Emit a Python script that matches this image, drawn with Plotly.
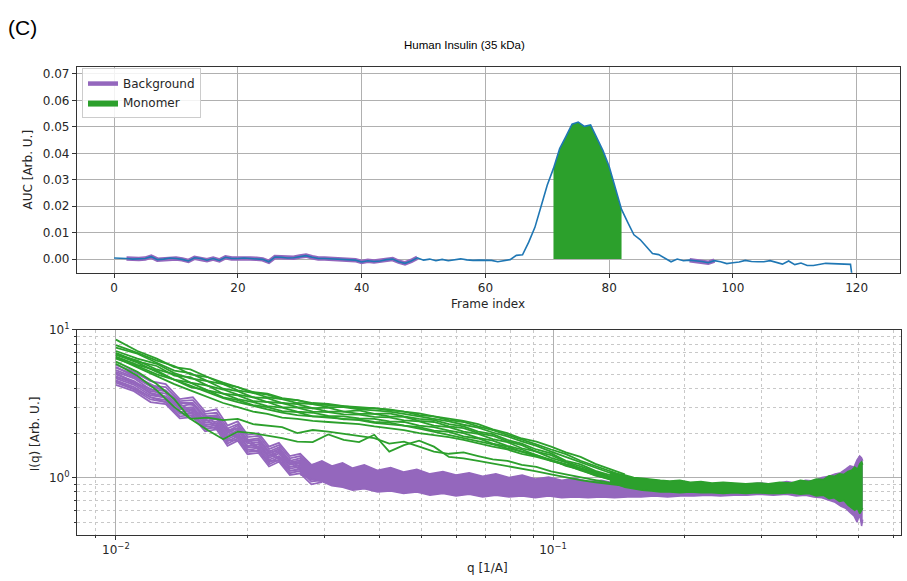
import plotly.graph_objects as go

# ---------------- data: top panel (AUC vs frame) ----------------
frames = list(range(121))
auc = [
    0.0004, 0.0004, 0.0002, 0.0000, 0.0000, 0.0002, 0.0009, -0.0002, 0.0000, 0.0004,
    0.0002, -0.0001, -0.0007, 0.0005, 0.0002, -0.0004, 0.0002, -0.0005, 0.0007, 0.0002,
    0.0002, 0.0004, 0.0002, 0.0001, -0.0001, -0.0010, 0.0008, 0.0007, 0.0004, 0.0005,
    0.0010, 0.0013, 0.0007, 0.0002, 0.0002, 0.0001, 0.0000, 0.0000, -0.0001, -0.0004,
    -0.0011, -0.0006, -0.0009, -0.0007, -0.0002, 0.0000, -0.0010, -0.0016, -0.0007, 0.0005,
    -0.0004, 0.0000, -0.0006, -0.0001, -0.0006, -0.0002, 0.0001, -0.0003, -0.0005, -0.0004,
    -0.0004, -0.0005, -0.0010, -0.0005, -0.0002, 0.0014, 0.0016, 0.0064, 0.0120, 0.0200,
    0.0280, 0.0343, 0.0418, 0.0463, 0.0510, 0.0518, 0.0502, 0.0507, 0.0460, 0.0410,
    0.0350, 0.0269, 0.0188, 0.0139, 0.0092, 0.0074, 0.0046, 0.0021, 0.0017, 0.0002,
    -0.0010, 0.0000, -0.0006, -0.0004, -0.0006, -0.0009, -0.0014, -0.0006, -0.0010, -0.0017,
    -0.0014, -0.0011, -0.0005, -0.0009, -0.0010, -0.0010, -0.0006, -0.0014, -0.0019, -0.0007,
    -0.0021, -0.0015, -0.0024, -0.0024, -0.0021, -0.0016, -0.0017, -0.0018, -0.0019, -0.0020,
    -0.0200,
]
bg_frames_a = list(range(2, 50))
bg_frames_b = list(range(93, 98))
monomer_frames = list(range(71, 83))

top_xticks = [0, 20, 40, 60, 80, 100, 120]
top_yticks = [0.00, 0.01, 0.02, 0.03, 0.04, 0.05, 0.06, 0.07]

# ---------------- data: bottom panel (I(q) vs q) ----------------
q_green = [0.0100, 0.0112, 0.0124, 0.0136, 0.0148, 0.0162, 0.0176, 0.0190, 0.0206, 0.0222,
           0.0240, 0.0260, 0.0282, 0.0306, 0.0332, 0.0360, 0.0390, 0.0422, 0.0456, 0.0494,
           0.0534, 0.0578, 0.0624, 0.0674, 0.0728, 0.0786, 0.0848, 0.0916, 0.0990, 0.1070,
           0.1156, 0.1250, 0.1350, 0.1460]
green_curves = [
    [8.6, 7.2, 6.4, 5.6, 5.4, 4.8, 4.4, 4.1, 3.8, 3.7, 3.45, 3.35, 3.2, 3.15, 3.05, 3.0, 2.95, 2.9, 2.8, 2.72, 2.6, 2.5, 2.42, 2.3, 2.12, 2.0, 1.84, 1.75, 1.62, 1.48, 1.38, 1.24, 1.14, 1.05],
    [7.9, 7.0, 6.2, 5.7, 5.0, 4.8, 4.3, 4.1, 3.75, 3.65, 3.4, 3.35, 3.15, 3.1, 3.05, 2.95, 2.95, 2.85, 2.8, 2.65, 2.6, 2.45, 2.38, 2.22, 2.1, 1.95, 1.82, 1.68, 1.55, 1.44, 1.3, 1.2, 1.1, 1.02],
    [7.6, 6.9, 6.0, 5.3, 5.1, 4.5, 4.3, 3.9, 3.75, 3.5, 3.4, 3.2, 3.15, 3.0, 3.0, 2.9, 2.85, 2.8, 2.7, 2.6, 2.5, 2.4, 2.28, 2.18, 2.02, 1.9, 1.76, 1.64, 1.5, 1.38, 1.26, 1.16, 1.07, 0.99],
    [7.2, 6.4, 5.9, 5.1, 4.7, 4.5, 4.0, 3.85, 3.5, 3.45, 3.2, 3.15, 2.95, 2.98, 2.8, 2.85, 2.7, 2.72, 2.6, 2.5, 2.45, 2.3, 2.22, 2.05, 1.97, 1.8, 1.7, 1.55, 1.46, 1.3, 1.23, 1.11, 1.04, 0.96],
    [7.0, 6.1, 5.7, 4.9, 4.8, 4.2, 3.95, 3.65, 3.5, 3.25, 3.2, 3.0, 2.95, 2.8, 2.8, 2.7, 2.7, 2.6, 2.58, 2.42, 2.38, 2.22, 2.16, 2.0, 1.92, 1.76, 1.66, 1.5, 1.42, 1.28, 1.19, 1.09, 1.01, 0.95],
    [6.8, 6.2, 5.4, 5.0, 4.4, 4.2, 3.7, 3.6, 3.3, 3.25, 3.0, 2.98, 2.8, 2.78, 2.68, 2.67, 2.58, 2.56, 2.44, 2.4, 2.25, 2.2, 2.05, 1.98, 1.82, 1.74, 1.58, 1.5, 1.36, 1.27, 1.15, 1.07, 0.99, 0.94],
    [6.6, 5.8, 5.3, 4.6, 4.4, 3.9, 3.7, 3.4, 3.25, 3.05, 2.98, 2.8, 2.75, 2.62, 2.6, 2.52, 2.5, 2.4, 2.38, 2.25, 2.2, 2.08, 2.0, 1.86, 1.78, 1.64, 1.55, 1.42, 1.32, 1.2, 1.13, 1.03, 0.98, 0.92],
    [6.4, 5.7, 5.0, 4.6, 4.1, 3.9, 3.5, 3.35, 3.1, 3.0, 2.82, 2.78, 2.6, 2.6, 2.48, 2.48, 2.38, 2.36, 2.25, 2.2, 2.08, 2.04, 1.9, 1.84, 1.7, 1.62, 1.5, 1.42, 1.3, 1.22, 1.12, 1.04, 0.97, 0.93],
    [6.8, 6.0, 5.2, 4.6, 4.2, 3.8, 3.45, 3.25, 3.05, 2.9, 2.75, 2.65, 2.6, 2.55, 2.5, 2.45, 2.35, 2.3, 2.25, 2.15, 2.05, 1.95, 1.85, 1.78, 1.68, 1.58, 1.5, 1.4, 1.32, 1.24, 1.16, 1.08, 1.01, 0.96],
    [6.5, 5.6, 4.9, 4.3, 3.9, 3.5, 3.2, 3.0, 2.8, 2.7, 2.55, 2.5, 2.42, 2.38, 2.35, 2.3, 2.22, 2.15, 2.1, 2.0, 1.95, 1.88, 1.8, 1.7, 1.62, 1.55, 1.45, 1.38, 1.3, 1.22, 1.14, 1.06, 1.0, 0.95],
    [6.1, 5.2, 4.3, 3.4, 2.5, 2.55, 2.45, 2.5, 2.3, 2.25, 2.2, 2.0, 2.1, 2.05, 1.98, 1.9, 1.85, 1.7, 1.75, 1.62, 1.5, 1.45, 1.48, 1.4, 1.33, 1.3, 1.22, 1.18, 1.1, 1.05, 1.0, 0.96, 0.92, 0.9],
    [5.9, 4.9, 3.9, 3.0, 2.5, 2.1, 1.82, 2.05, 2.0, 1.92, 1.85, 1.75, 1.74, 1.96, 1.8, 1.74, 1.95, 1.5, 1.66, 1.78, 1.62, 1.38, 1.35, 1.3, 1.25, 1.2, 1.15, 1.1, 1.05, 1.0, 0.96, 0.93, 0.9, 0.88],
]

q_purple = [0.0100, 0.0110, 0.0120, 0.0130, 0.0140, 0.0150, 0.0160, 0.0170, 0.0180, 0.0190,
            0.0200, 0.0212, 0.0224, 0.0236, 0.0250, 0.0264, 0.0280, 0.0296]
purple_curves = [
    [5.8, 5.2, 4.5, 4.3, 3.4, 3.5, 2.8, 2.9, 2.25, 2.4, 1.95, 2.0, 1.62, 1.72, 1.4, 1.45, 1.22, 1.25],
    [5.55, 5.0, 4.2, 4.1, 3.3, 3.35, 2.7, 2.75, 2.15, 2.3, 1.88, 1.92, 1.56, 1.66, 1.35, 1.4, 1.18, 1.2],
    [5.35, 4.8, 4.15, 3.9, 3.2, 3.2, 2.6, 2.65, 2.05, 2.25, 1.8, 1.85, 1.5, 1.6, 1.3, 1.35, 1.13, 1.17],
    [5.2, 4.7, 3.95, 3.85, 3.05, 3.15, 2.5, 2.6, 2.0, 2.17, 1.76, 1.8, 1.46, 1.56, 1.27, 1.31, 1.1, 1.13],
    [5.0, 4.5, 3.85, 3.7, 2.95, 3.0, 2.42, 2.5, 1.93, 2.1, 1.7, 1.73, 1.4, 1.5, 1.22, 1.26, 1.06, 1.09],
    [4.85, 4.35, 3.75, 3.55, 2.9, 2.92, 2.35, 2.4, 1.88, 2.02, 1.63, 1.68, 1.36, 1.46, 1.18, 1.22, 1.03, 1.06],
    [4.7, 4.25, 3.6, 3.5, 2.78, 2.85, 2.28, 2.33, 1.82, 1.96, 1.6, 1.62, 1.32, 1.4, 1.15, 1.18, 1.0, 1.03],
    [4.55, 4.1, 3.5, 3.35, 2.7, 2.75, 2.2, 2.27, 1.76, 1.9, 1.54, 1.58, 1.27, 1.37, 1.11, 1.15, 0.97, 1.0],
    [4.4, 3.95, 3.38, 3.25, 2.6, 2.66, 2.13, 2.2, 1.7, 1.84, 1.49, 1.52, 1.23, 1.32, 1.07, 1.11, 0.94, 0.96],
    [4.25, 3.85, 3.25, 3.15, 2.52, 2.57, 2.06, 2.12, 1.64, 1.78, 1.44, 1.47, 1.19, 1.28, 1.04, 1.07, 0.9, 0.93],
    [5.1, 4.4, 4.0, 3.5, 3.15, 2.8, 2.65, 2.3, 2.15, 1.9, 1.82, 1.6, 1.52, 1.36, 1.32, 1.17, 1.14, 1.02],
    [4.8, 4.45, 3.7, 3.45, 3.0, 2.7, 2.5, 2.2, 2.05, 1.85, 1.75, 1.55, 1.45, 1.33, 1.27, 1.13, 1.1, 1.0],
    [5.6, 4.9, 4.3, 3.8, 3.25, 3.1, 2.6, 2.55, 2.1, 2.15, 1.78, 1.78, 1.46, 1.52, 1.25, 1.28, 1.08, 1.1],
    [4.5, 4.0, 3.5, 3.25, 2.75, 2.6, 2.25, 2.15, 1.8, 1.78, 1.55, 1.5, 1.3, 1.3, 1.12, 1.1, 0.97, 0.95],
]

# dense noisy bands (envelopes)
q_pb = [0.0264, 0.0280, 0.0296, 0.0312, 0.0330, 0.0348, 0.0370, 0.0397, 0.0425, 0.0455,
        0.0488, 0.0523, 0.0560, 0.0600, 0.0643, 0.0690, 0.0740, 0.0793, 0.0850, 0.0911,
        0.0977, 0.1047, 0.1122, 0.1203, 0.1290, 0.1383, 0.1483, 0.1590, 0.1705, 0.1828,
        0.1960, 0.2101, 0.2253, 0.2416, 0.2590, 0.2777, 0.2977, 0.3192, 0.3422, 0.3600,
        0.3780, 0.3950, 0.4120, 0.4280, 0.4420, 0.4550, 0.4670, 0.4780, 0.4880, 0.4960,
        0.5030, 0.5080, 0.5110]
pb_hi = [1.38, 1.22, 1.30, 1.20, 1.26, 1.16, 1.22, 1.12, 1.17, 1.09, 1.14, 1.06, 1.10, 1.04,
         1.08, 1.02, 1.06, 1.00, 1.04, 0.98, 1.01, 0.96, 0.99, 0.94, 0.96, 0.92, 0.94, 0.91,
         0.93, 0.90, 0.92, 0.90, 0.91, 0.89, 0.91, 0.90, 0.92, 0.90, 0.94, 0.92, 0.96, 0.95,
         1.00, 1.02, 1.06, 1.08, 1.14, 1.20, 1.18, 1.32, 1.40, 1.36, 1.30]
pb_lo = [1.05, 0.98, 0.94, 0.88, 0.86, 0.82, 0.84, 0.80, 0.81, 0.78, 0.80, 0.76, 0.78, 0.75,
         0.77, 0.74, 0.76, 0.74, 0.75, 0.73, 0.75, 0.73, 0.74, 0.73, 0.74, 0.73, 0.74, 0.74,
         0.75, 0.74, 0.75, 0.75, 0.76, 0.75, 0.76, 0.76, 0.77, 0.76, 0.77, 0.75, 0.76, 0.74,
         0.73, 0.70, 0.68, 0.64, 0.62, 0.58, 0.55, 0.50, 0.56, 0.47, 0.52]

q_gb = [0.1350, 0.1400, 0.1460, 0.1530, 0.1600, 0.1680, 0.1760, 0.1850, 0.1950, 0.2060,
        0.2180, 0.2310, 0.2450, 0.2600, 0.2760, 0.2930, 0.3110, 0.3300, 0.3500, 0.3680,
        0.3850, 0.4000, 0.4150, 0.4280, 0.4400, 0.4520, 0.4630, 0.4730, 0.4820, 0.4900,
        0.4970, 0.5030, 0.5080, 0.5110]
gb_hi = [1.10, 1.06, 1.04, 1.00, 0.99, 0.97, 0.96, 0.95, 0.96, 0.93, 0.94, 0.92, 0.93, 0.92,
         0.91, 0.92, 0.91, 0.93, 0.92, 0.96, 0.94, 0.98, 0.97, 1.03, 1.02, 1.06, 1.05, 1.10,
         1.12, 1.18, 1.14, 1.24, 1.28, 1.22]
gb_lo = [0.92, 0.90, 0.86, 0.84, 0.82, 0.81, 0.80, 0.80, 0.79, 0.80, 0.79, 0.79, 0.78, 0.79,
         0.78, 0.79, 0.78, 0.78, 0.79, 0.77, 0.78, 0.75, 0.76, 0.72, 0.73, 0.69, 0.70, 0.65,
         0.62, 0.60, 0.62, 0.57, 0.60, 0.62]

q_major_ticks = [0.01, 0.1]
q_major_text = ["10<sup>\u22122</sup>", "10<sup>\u22121</sup>"]
q_minor_ticks = [0.009, 0.02, 0.03, 0.04, 0.05, 0.06, 0.07, 0.08, 0.09, 0.2, 0.3, 0.4, 0.5, 0.6]
i_major_ticks = [1, 10]
i_major_text = ["10<sup>0</sup>", "10<sup>1</sup>"]
i_minor_ticks = [0.5, 0.6, 0.7, 0.8, 0.9, 2, 3, 4, 5, 6, 7, 8, 9]

# ---------------- styling ----------------
BLUE = "#1f77b4"
PURPLE = "#9467bd"
GREEN = "#2ca02c"
FONT = "DejaVu Sans"
TXT = "#262626"
W, H = 907, 581

fig = go.Figure()

# top panel
fig.add_trace(go.Scatter(x=bg_frames_a, y=[auc[f] for f in bg_frames_a], mode="lines",
                         line=dict(color=PURPLE, width=4.5), name="Background",
                         legendgroup="bg", showlegend=True, xaxis="x", yaxis="y"))
fig.add_trace(go.Scatter(x=bg_frames_b, y=[auc[f] for f in bg_frames_b], mode="lines",
                         line=dict(color=PURPLE, width=4.5), name="Background",
                         legendgroup="bg", showlegend=False, xaxis="x", yaxis="y"))
fig.add_trace(go.Scatter(x=monomer_frames, y=[auc[f] for f in monomer_frames], mode="lines",
                         line=dict(color=GREEN, width=0), fill="tozeroy", fillcolor=GREEN,
                         name="Monomer", showlegend=True, xaxis="x", yaxis="y"))
fig.add_trace(go.Scatter(x=frames, y=auc, mode="lines", line=dict(color=BLUE, width=1.6),
                         showlegend=False, xaxis="x", yaxis="y"))

# bottom panel: background curves
for c in purple_curves:
    fig.add_trace(go.Scatter(x=q_purple, y=c, mode="lines", line=dict(color=PURPLE, width=1.8),
                             showlegend=False, xaxis="x2", yaxis="y2"))
fig.add_trace(go.Scatter(x=q_pb, y=pb_lo, mode="lines", line=dict(color=PURPLE, width=1.5),
                         showlegend=False, xaxis="x2", yaxis="y2"))
fig.add_trace(go.Scatter(x=q_pb, y=pb_hi, mode="lines", line=dict(color=PURPLE, width=1.5),
                         fill="tonexty", fillcolor=PURPLE, showlegend=False, xaxis="x2", yaxis="y2"))
# bottom panel: monomer curves
for c in green_curves:
    fig.add_trace(go.Scatter(x=q_green, y=c, mode="lines", line=dict(color=GREEN, width=1.8),
                             showlegend=False, xaxis="x2", yaxis="y2"))
fig.add_trace(go.Scatter(x=q_gb, y=gb_lo, mode="lines", line=dict(color=GREEN, width=1.5),
                         showlegend=False, xaxis="x2", yaxis="y2"))
fig.add_trace(go.Scatter(x=q_gb, y=gb_hi, mode="lines", line=dict(color=GREEN, width=1.5),
                         fill="tonexty", fillcolor=GREEN, showlegend=False, xaxis="x2", yaxis="y2"))

axis_common = dict(showline=True, mirror=True, linecolor="#333333", linewidth=1.2,
                   ticks="outside", ticklen=4, tickcolor="#333333",
                   tickfont=dict(family=FONT, size=12, color=TXT),
                   showgrid=True, gridcolor="#b0b0b0", gridwidth=1, zeroline=False)

fig.update_layout(
    width=W, height=H, autosize=False,
    margin=dict(l=0, r=0, t=0, b=0),
    paper_bgcolor="white", plot_bgcolor="white",
    xaxis=dict(domain=[77 / W, 900 / W], anchor="y", range=[-6, 127], tickvals=top_xticks,
               **axis_common),
    yaxis=dict(domain=[1 - 268 / H, 1 - 59 / H], anchor="x", range=[-0.0052, 0.0726],
               tickvals=top_yticks, tickformat=".2f", **axis_common),
    xaxis2=dict(domain=[77 / W, 901 / W], anchor="y2", type="log", range=[-2.089, -0.204],
                tickmode="array", tickvals=q_major_ticks, ticktext=q_major_text,
                minor=dict(tickmode="array", tickvals=q_minor_ticks, ticks="outside", ticklen=2,
                           tickcolor="#333333", showgrid=True, gridcolor="#c8c8c8",
                           griddash="dot", gridwidth=1),
                **axis_common),
    yaxis2=dict(domain=[1 - 534 / H, 1 - 326 / H], anchor="x2", type="log", range=[-0.387, 1.0],
                tickmode="array", tickvals=i_major_ticks, ticktext=i_major_text,
                minor=dict(tickmode="array", tickvals=i_minor_ticks, ticks="outside", ticklen=2,
                           tickcolor="#333333", showgrid=True, gridcolor="#c8c8c8",
                           griddash="dot", gridwidth=1),
                **axis_common),
    legend=dict(x=82 / W, y=1 - 60 / H, xanchor="left", yanchor="top",
                bgcolor="rgba(255,255,255,0.85)", bordercolor="#cccccc", borderwidth=1,
                font=dict(family=FONT, size=12, color=TXT), traceorder="normal",
                itemwidth=30, tracegroupgap=0),
    showlegend=True,
)

annos = [
    dict(text="(C)", x=6 / W, y=1 - 19 / H, xanchor="left", yanchor="middle",
         font=dict(family="Liberation Sans", size=21, color="black")),
    dict(text="Human Insulin (35 kDa)", x=465 / W, y=1 - 37 / H, xanchor="center", yanchor="middle",
         font=dict(family="Liberation Sans", size=11.5, color="black")),
    dict(text="Frame index", x=488 / W, y=1 - 300 / H, xanchor="center", yanchor="middle",
         font=dict(family=FONT, size=12, color=TXT)),
    dict(text="AUC [Arb. U.]", x=28 / W, y=1 - 163 / H, xanchor="center", yanchor="middle",
         textangle=-90, font=dict(family=FONT, size=12, color=TXT)),
    dict(text="q [1/A]", x=488 / W, y=1 - 568 / H, xanchor="center", yanchor="middle",
         font=dict(family=FONT, size=12, color=TXT)),
    dict(text="I(q) [Arb. U.]", x=35 / W, y=1 - 432 / H, xanchor="center", yanchor="middle",
         textangle=-90, font=dict(family=FONT, size=12, color=TXT)),
]
for a in annos:
    fig.add_annotation(xref="paper", yref="paper", showarrow=False, **a)

fig.write_html("out.html", config={"displayModeBar": False},
               post_script="document.body.style.margin='0';document.body.style.overflow='hidden';")
